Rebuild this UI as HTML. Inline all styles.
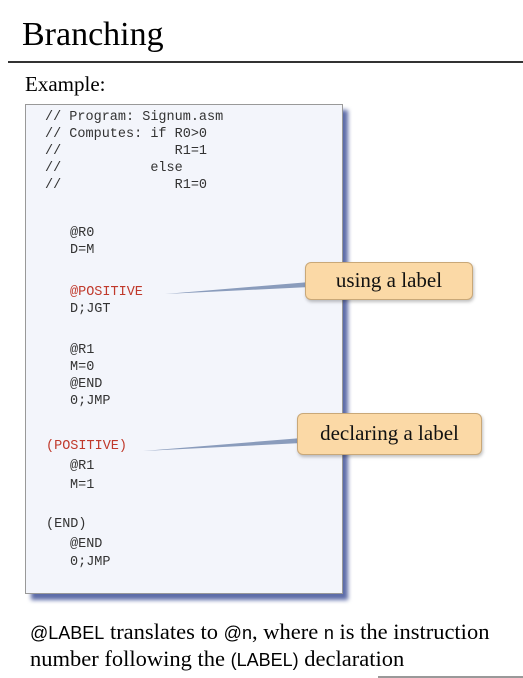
<!DOCTYPE html>
<html><head><style>
body{margin:0;width:523px;height:678px;background:#fff;position:relative;overflow:hidden;font-family:"Liberation Serif",serif;}
.a{position:absolute;white-space:pre;}
.m{font-family:"Liberation Mono",monospace;font-size:13.5px;color:#333;}
.r{color:#c0392b;}
.s{font-family:"Liberation Sans",sans-serif;font-size:18px;}
.call{position:absolute;background:#fbd9a6;border:1px solid #c9a878;border-radius:6px;font-size:21px;color:#111;text-align:center;box-shadow:1px 2px 3px rgba(0,0,0,.25);}
</style></head><body>
<div class="a" style="left:22px;top:16px;font-size:34px;">Branching</div>
<div class="a" style="left:8px;top:61px;width:515px;height:2px;background:#333"></div>
<div class="a" style="left:25px;top:72px;font-size:21px;">Example:</div>
<div class="a" style="left:31px;top:110px;width:317px;height:490px;background:#5d6ca8;filter:blur(2px)"></div>
<div class="a" style="left:25px;top:104px;width:316px;height:488px;background:#f3f5fb;border:1px solid #999"></div>
<div class="a m" style="left:45px;top:109px;line-height:17px">// Program: Signum.asm
// Computes: if R0&gt;0
//              R1=1
//           else
//              R1=0</div>
<div class="a m" style="left:70px;top:226px">@R0</div>
<div class="a m" style="left:70px;top:243px">D=M</div>
<div class="a m r" style="left:70px;top:285px">@POSITIVE</div>
<div class="a m" style="left:70px;top:302px">D;JGT</div>
<div class="a m" style="left:70px;top:343px">@R1</div>
<div class="a m" style="left:70px;top:360px">M=0</div>
<div class="a m" style="left:70px;top:377px">@END</div>
<div class="a m" style="left:70px;top:394px">0;JMP</div>
<div class="a m r" style="left:46px;top:439px">(POSITIVE)</div>
<div class="a m" style="left:70px;top:459px">@R1</div>
<div class="a m" style="left:70px;top:478px">M=1</div>
<div class="a m" style="left:46px;top:517px">(END)</div>
<div class="a m" style="left:70px;top:537px">@END</div>
<div class="a m" style="left:70px;top:555px">0;JMP</div>
<svg class="a" style="left:0;top:0" width="523" height="678">
<polygon points="165,294 310,282 310,287" fill="#8a9cbc"/>
<polygon points="143,451 302,438 302,443" fill="#8a9cbc"/>
</svg>
<div class="call" style="left:305px;top:262px;width:166px;height:36px;line-height:34px">using a label</div>
<div class="call" style="left:297px;top:413px;width:183px;height:40px;line-height:38px">declaring a label</div>
<div class="a" style="left:30px;top:619px;font-size:22.5px;"><span class="s">@LABEL</span> translates to <span class="s">@n</span>, where <span class="s">n</span> is the instruction</div>
<div class="a" style="left:30px;top:646px;font-size:22.5px;">number following the <span class="s">(LABEL)</span> declaration</div>
<div class="a" style="left:378px;top:676px;width:145px;height:2px;background:#999"></div>
</body></html>
